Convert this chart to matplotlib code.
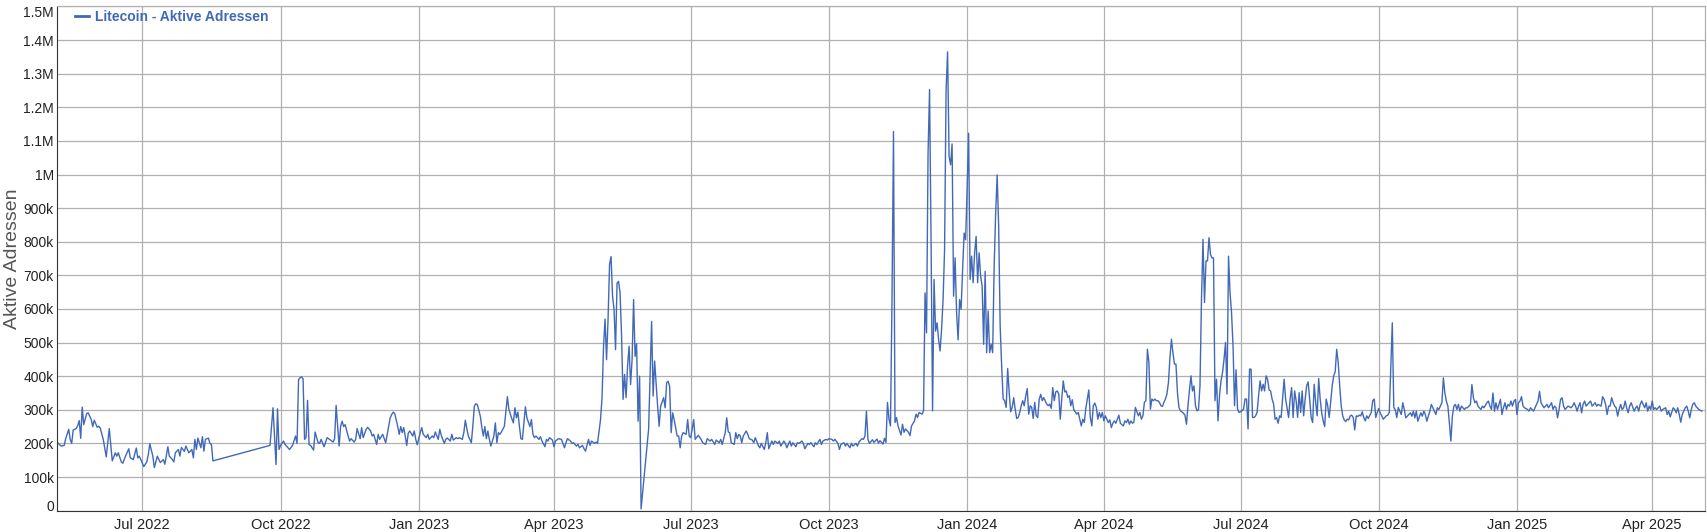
import matplotlib.pyplot as plt
import numpy as np
import pandas as pd
from matplotlib.ticker import FuncFormatter, MultipleLocator

plt.rcParams['font.family'] = ['Liberation Sans', 'DejaVu Sans']

# Startdatum der Reihe, Tage ab Start / aktive Adressen in Tausend
start = pd.Timestamp("2022-05-05")

# Mai - Okt 2022 (danach Luecke bis Ende Sep)
days_a = [0, 1, 3, 5, 6, 8, 9, 10, 11, 13, 14, 15, 16, 17, 18, 20, 21, 23, 24, 25,
          27, 28, 29, 31, 33, 35, 37, 39, 40, 41, 43, 44, 46, 48, 49, 51, 53, 54, 55, 57,
          58, 60, 61, 62, 64, 65, 67, 68, 69, 71, 72, 74, 75, 77, 78, 79, 81, 82, 83, 85,
          86, 88, 90, 91, 92, 93, 94, 96, 97, 98, 99, 101, 102, 103, 104,
          142, 144, 146, 147, 148, 149, 151, 152, 153, 155, 157, 159, 160, 161, 162, 163,
          164, 165, 166, 167, 168, 169, 171, 172, 174, 175, 176, 178, 180, 181]
vals_a = [207, 200, 192, 194, 214, 242, 212, 200, 240, 244, 253, 268, 215, 308, 256, 289, 291, 271, 250, 269,
          248, 251, 246, 212, 160, 244, 148, 172, 162, 172, 145, 141, 164, 184, 157, 152, 186, 157, 162, 141,
          131, 145, 167, 199, 162, 128, 162, 152, 143, 152, 138, 190, 162, 152, 145, 172, 182, 162, 188, 176,
          192, 172, 182, 157, 212, 182, 216, 187, 220, 177, 212, 216, 200, 197, 148,
          194, 306, 137, 303, 182, 194, 207, 197, 192, 182, 194, 222, 200, 390, 395, 398,
          392, 212, 218, 328, 196, 194, 180, 234, 202, 200, 212, 190, 217, 214]

# Nov 2022 - Maerz 2023
days_b = [184, 185, 186, 188, 189, 190, 191, 192, 194, 195, 196, 198, 199, 200, 202, 203, 204, 206, 207, 209,
          210, 211, 213, 214, 215, 217, 218, 219, 220, 222, 223, 224, 225, 227, 228, 229, 230, 231, 232, 233,
          234, 235, 237, 238, 239, 240, 242, 243, 244, 246, 247, 248, 250, 251, 252, 254, 255, 256, 258, 259,
          260, 262, 263, 264, 266, 267, 268, 270, 271, 272, 273, 274, 275, 276, 277, 278, 279, 280, 282, 283,
          284, 285, 286, 287, 288, 289, 291, 292, 293, 294, 295, 296, 298, 299, 300, 301, 303, 304, 305, 306,
          307, 308, 309, 310, 312, 313, 315, 316, 317, 318, 319, 321, 322, 323, 325, 326, 327, 328, 330, 331,
          332, 334]
vals_b = [204, 214, 313, 192, 251, 266, 250, 256, 222, 207, 214, 204, 212, 244, 214, 247, 217, 242, 248, 237,
          222, 227, 197, 227, 212, 227, 214, 202, 227, 276, 286, 293, 289, 251, 227, 250, 232, 247, 222, 194,
          230, 237, 222, 237, 212, 196, 232, 247, 227, 217, 227, 212, 222, 217, 234, 212, 242, 224, 200, 212,
          216, 207, 227, 210, 217, 214, 217, 212, 232, 269, 244, 222, 212, 202, 251, 311, 318, 315, 281, 247,
          222, 250, 214, 237, 212, 192, 222, 261, 202, 232, 227, 234, 251, 296, 339, 301, 273, 261, 306, 276,
          293, 251, 214, 212, 309, 276, 250, 271, 227, 217, 222, 212, 220, 207, 190, 212, 207, 217, 210, 190,
          207, 214]

# April - Oktober 2023
days_c = [336, 338, 339, 340, 342, 343, 344, 346, 347, 348, 350, 351, 352, 354, 355, 356, 358, 359, 360, 362,
          363, 364, 365, 366, 367, 368, 369, 370, 371, 372, 373, 374, 375, 376, 377, 378, 379, 380, 381, 382,
          383, 384, 385, 386, 387, 388, 389, 394, 396, 397, 398, 400, 401, 402, 404, 405, 406, 407, 408, 409,
          410, 411, 413, 414, 415, 416, 417, 419, 420, 421, 422, 423, 424, 425, 427, 429, 430, 432, 433, 435,
          436, 438, 439, 441, 442, 443, 445, 446, 447, 448, 449, 451, 452, 453, 454, 455, 456, 457, 459, 460,
          461, 463, 464, 465, 467, 468, 469, 471, 472, 473, 474, 476, 477, 478, 480, 481, 482, 484, 485, 486,
          488, 489, 490, 492, 493, 494, 496, 497, 498, 500, 501, 502, 504, 505, 506, 508, 509, 510, 512, 513,
          514, 516, 517, 518, 520, 521, 522, 524, 525, 526, 528, 529, 530, 532, 533, 534, 536, 537, 538, 539,
          540, 541]
vals_c = [212, 187, 202, 214, 207, 200, 202, 192, 197, 187, 194, 184, 177, 212, 194, 207, 200, 204, 200, 271,
          336, 489, 570, 449, 568, 732, 756, 638, 598, 479, 677, 682, 648, 519, 331, 405, 336, 430, 489, 375,
          449, 628, 459, 497, 266, 400, 5, 242, 563, 341, 445, 311, 251, 311, 336, 306, 380, 385, 370, 232,
          291, 271, 222, 222, 187, 222, 232, 227, 271, 222, 217, 242, 271, 212, 224, 212, 202, 197, 214, 207,
          212, 197, 210, 202, 212, 197, 232, 276, 234, 232, 202, 197, 232, 214, 227, 222, 202, 222, 237, 227,
          214, 210, 202, 217, 194, 187, 200, 182, 202, 232, 184, 207, 197, 207, 200, 207, 192, 207, 200, 187,
          207, 192, 202, 190, 202, 200, 207, 200, 184, 200, 197, 202, 190, 202, 197, 212, 197, 207, 212, 210,
          214, 212, 207, 212, 200, 182, 197, 202, 192, 200, 187, 200, 192, 200, 192, 204, 214, 212, 222, 296,
          212, 200]

# Okt 2023 - Feb 2024 (Spitzen)
days_d = [543, 544, 546, 547, 548, 550, 551, 552, 553, 554, 555, 556, 557, 558, 559, 560, 562, 563, 564, 565,
          567, 568, 569, 571, 572, 573, 574, 576, 577, 578, 579, 580, 581, 582, 583, 584, 585, 586, 587, 588,
          589, 590, 591, 592, 593, 594, 595, 596, 597, 598, 599, 600, 601, 602, 603, 604, 605, 606, 607, 608,
          609, 610, 611, 612, 613, 614, 615, 616, 617, 618, 619, 620, 621, 622, 623, 624, 625, 626, 627, 628,
          629, 630, 631, 632, 633, 634, 635, 636, 637, 638, 639, 640, 641, 642, 643, 644, 645, 646, 647, 648,
          649, 650, 651, 652, 653, 654, 655, 656, 657, 659, 660]
vals_d = [211, 203, 213, 201, 208, 198, 215, 203, 322, 272, 252, 628, 1128, 262, 277, 252, 225, 257, 233, 243,
          233, 223, 252, 267, 287, 277, 292, 287, 297, 648, 529, 1063, 1253, 806, 297, 688, 534, 559, 510, 475,
          539, 628, 777, 1251, 1365, 1054, 1029, 1091, 638, 752, 589, 508, 628, 599, 717, 826, 806, 955, 1123, 688,
          757, 678, 767, 816, 678, 767, 697, 668, 495, 712, 470, 594, 470, 495, 470, 727, 885, 999, 846, 549,
          430, 332, 327, 307, 423, 351, 294, 307, 336, 302, 274, 277, 292, 312, 327, 312, 341, 363, 287, 312,
          307, 274, 322, 282, 277, 331, 346, 327, 336, 317, 312]

# Feb 2024 - Okt 2024
days_e = [661, 662, 663, 664, 665, 666, 667, 668, 669, 670, 671, 672, 673, 674, 675, 676, 677, 679, 680, 681,
          682, 683, 684, 685, 686, 687, 688, 689, 690, 691, 692, 693, 694, 695, 696, 697, 698, 700, 701, 702,
          703, 704, 705, 706, 707, 708, 710, 711, 712, 713, 714, 715, 716, 717, 718, 720, 721, 722, 723, 724,
          725, 726, 727, 728, 729, 730, 731, 732, 733, 734, 735, 736, 737, 738, 739, 740, 741, 742, 743, 744,
          745, 746, 747, 748, 750, 751, 752, 753, 754, 755, 756, 757, 758, 759, 760, 761, 762, 763, 764, 765,
          766, 767, 768, 769, 770, 771, 772, 773, 774, 775, 776, 777, 778, 779, 780, 781, 782, 783, 784, 785,
          786, 787, 788, 790, 791, 792, 793, 794, 795, 796, 797, 798, 799, 800, 801, 802, 803, 804, 805, 806,
          807, 808, 809, 810, 811, 812, 813, 814, 815, 816, 817, 818, 820, 821, 822, 823, 824, 825, 826, 827,
          828, 829, 830, 831, 832, 833, 834, 835, 836, 837, 838, 839, 840, 841, 842, 843, 844, 845, 846, 847,
          849, 850, 851, 852, 853, 854, 855, 856, 857, 858, 859, 860, 861, 862, 863, 864, 865, 866, 867, 868,
          869, 870, 871, 872, 873, 875, 876, 877, 878, 879, 880, 881, 882, 883, 885, 886, 887, 889, 890, 891,
          892, 893]
vals_e = [317, 304, 366, 327, 353, 356, 347, 272, 332, 386, 353, 356, 337, 342, 312, 330, 300, 287, 292, 272,
          252, 272, 262, 304, 332, 359, 277, 252, 312, 320, 307, 272, 292, 277, 292, 267, 282, 262, 270, 247,
          260, 267, 260, 272, 284, 260, 252, 267, 262, 272, 257, 267, 260, 263, 307, 282, 292, 272, 282, 322,
          327, 480, 441, 302, 332, 327, 332, 327, 327, 322, 312, 310, 322, 332, 347, 381, 455, 510, 470, 436,
          436, 351, 307, 297, 290, 284, 257, 312, 359, 401, 356, 371, 312, 297, 300, 371, 629, 807, 619, 743,
          743, 812, 762, 752, 752, 327, 391, 267, 342, 386, 411, 450, 500, 347, 757, 649, 589, 490, 312, 419,
          302, 292, 294, 302, 332, 332, 243, 421, 421, 277, 277, 282, 292, 342, 386, 356, 376, 356, 401, 391,
          359, 356, 332, 317, 272, 277, 260, 282, 277, 332, 391, 332, 277, 332, 366, 277, 356, 327, 277, 351,
          292, 356, 282, 332, 371, 383, 332, 277, 262, 376, 322, 282, 393, 332, 292, 267, 250, 332, 312, 277,
          371, 401, 413, 480, 441, 371, 312, 282, 270, 265, 272, 270, 282, 284, 277, 240, 282, 280, 284, 282,
          294, 277, 267, 282, 274, 292, 327, 332, 277, 292, 304, 290, 282, 272, 282, 284, 292, 559, 307, 300,
          277, 307]

# Okt 2024 - Mai 2025
days_f = [894, 895, 896, 897, 898, 899, 900, 901, 902, 903, 904, 905, 906, 908, 909, 910, 911, 912, 913, 914,
          915, 917, 918, 919, 920, 921, 922, 923, 924, 925, 926, 927, 928, 929, 930, 931, 932, 933, 934, 935,
          937, 938, 939, 941, 942, 943, 944, 945, 946, 947, 948, 949, 950, 952, 953, 954, 955, 956, 957, 958,
          959, 960, 961, 962, 963, 964, 965, 966, 967, 968, 969, 970, 971, 972, 973, 974, 975, 976, 977, 979,
          980, 981, 983, 984, 985, 986, 987, 988, 990, 991, 992, 993, 995, 996, 997, 998, 999, 1000, 1001, 1002,
          1003, 1004, 1005, 1006, 1008, 1009, 1010, 1011, 1012, 1013, 1014, 1015, 1016, 1017, 1018, 1020, 1021,
          1022, 1024, 1025, 1026, 1028, 1029, 1030, 1031, 1032, 1033, 1034, 1035, 1036, 1037, 1038, 1039, 1040,
          1041, 1042, 1043, 1044, 1045, 1046, 1047, 1048, 1050, 1051, 1052, 1053, 1054, 1055, 1057, 1058, 1059,
          1060, 1061, 1062, 1063, 1064, 1065, 1067, 1068, 1069, 1071, 1072, 1073, 1074, 1076, 1077, 1078, 1079,
          1080, 1081, 1082, 1083, 1084, 1085, 1086, 1087, 1088, 1089, 1090, 1091, 1092, 1093, 1095]
vals_f = [296, 286, 321, 301, 276, 281, 286, 291, 281, 296, 276, 296, 266, 291, 281, 296, 286, 266, 281, 296,
          316, 296, 286, 306, 301, 311, 321, 395, 350, 326, 311, 261, 207, 281, 311, 316, 301, 316, 296, 311,
          301, 306, 306, 316, 375, 336, 321, 326, 311, 306, 301, 311, 306, 321, 326, 311, 301, 350, 296, 321,
          301, 316, 331, 286, 306, 321, 301, 316, 311, 326, 311, 326, 331, 286, 321, 326, 339, 311, 306, 301,
          296, 306, 296, 306, 316, 326, 355, 321, 306, 311, 316, 306, 321, 301, 311, 306, 276, 301, 331, 336,
          311, 301, 306, 311, 306, 311, 321, 311, 296, 311, 321, 291, 316, 326, 311, 321, 326,
          311, 321, 311, 316, 311, 339, 331, 316, 286, 311, 311, 336, 321, 311, 306, 281, 301,
          316, 301, 306, 326, 306, 291, 311, 321, 296, 306, 311, 296, 316, 326, 306, 321, 296,
          311, 301, 326, 301, 306, 301, 311, 296, 301, 306, 286, 296, 279, 306, 301, 291, 306,
          286, 263, 286, 296, 306, 311, 296, 276, 301, 316, 321, 311, 306, 301, 296]

x_end_day = 1097
series_name = "Litecoin - Aktive Adressen"
y_label = "Aktive Adressen"

days = days_a + days_b + days_c + days_d + days_e + days_f
vals = vals_a + vals_b + vals_c + vals_d + vals_e + vals_f
dates = start + pd.to_timedelta(days, unit="D")
werte = np.array(vals) * 1000.0

line_color = "#4169b8"

fig = plt.figure(figsize=(17.07, 5.32), dpi=100)
ax = fig.add_axes([0.0332, 0.0402, 0.9655, 0.9476])

ax.plot(dates, werte, color=line_color, linewidth=1.0, label=series_name)

ax.set_xlim(start, start + pd.Timedelta(days=x_end_day))
ax.set_ylim(0, 1.5e6)

# Achsen / Gitter
ax.yaxis.set_major_locator(MultipleLocator(100000))


def fmt_k(v, pos):
    if v == 0:
        return "0"
    if v >= 1e6:
        return f"{v / 1e6:g}M"
    return f"{v / 1e3:g}k"


ax.yaxis.set_major_formatter(FuncFormatter(fmt_k))

quartale = pd.date_range("2022-07-01", "2025-04-01", freq="QS")
ax.set_xticks(quartale)
ax.set_xticklabels([d.strftime("%b %Y") for d in quartale])

ax.grid(True, color="#b0b0b0", linewidth=0.9)
ax.set_axisbelow(True)
ax.tick_params(axis="x", length=0, labelsize=10.5, colors="#222222", pad=5)
ax.tick_params(axis="y", length=0, labelsize=10, colors="#222222", pad=2)

# oberstes und unterstes Label wie im Original nach innen geschoben
fig.canvas.draw()
for tick in ax.yaxis.get_major_ticks():
    txt = tick.label1.get_text()
    if txt == "0":
        tick.label1.set_verticalalignment("baseline")
    elif txt == "1.5M":
        tick.label1.set_verticalalignment("top")

for side in ["top", "right"]:
    ax.spines[side].set_color("#b0b0b0")
    ax.spines[side].set_linewidth(0.9)
ax.spines["left"].set_color("#333333")
ax.spines["bottom"].set_color("#333333")

ax.set_ylabel(y_label, fontsize=14, color="#555555", va="center")
ax.yaxis.set_label_coords(-0.0265, 0.5)

leg = ax.legend(loc="upper left", bbox_to_anchor=(0.0105, 0.996), frameon=False,
                handlelength=1.0, handletextpad=0.4, borderaxespad=0.0, borderpad=0.1,
                prop={"weight": "bold", "size": 10})
for txt in leg.get_texts():
    txt.set_color(line_color)
for ln in leg.get_lines():
    ln.set_linewidth(2.0)

plt.savefig("out.png", dpi=100)
